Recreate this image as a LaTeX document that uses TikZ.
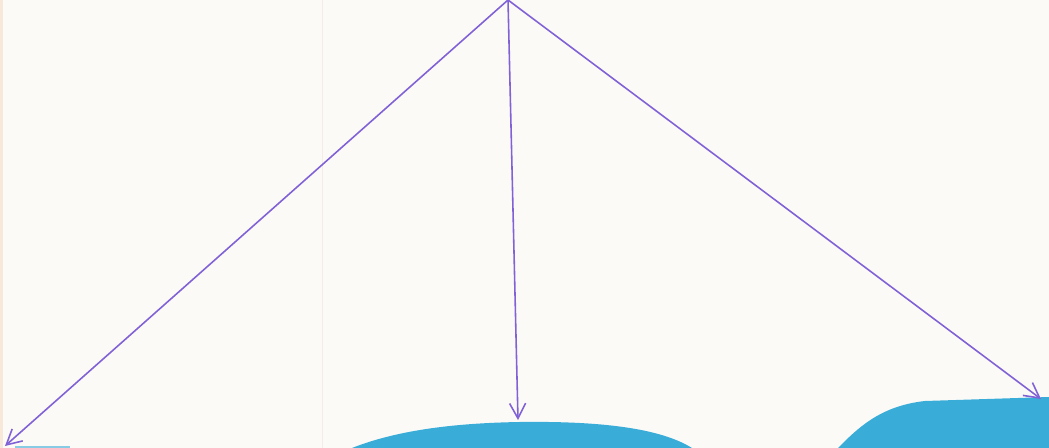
\documentclass[tikz,border=0pt]{standalone}
\usetikzlibrary{arrows.meta}
\definecolor{paper}{RGB}{252,250,247}
\definecolor{pen}{RGB}{128,98,214}
\definecolor{blob}{RGB}{58,172,216}
\definecolor{foldline}{RGB}{245,236,232}
\definecolor{edgetint}{RGB}{248,232,218}
\tikzset{
  px/.style={x=0.02cm,y=-0.02cm},
  penline/.style={draw=pen,line width=0.9pt,-{Straight Barb[length=3mm,width=3.2mm,line width=0.9pt]}},
  blobfill/.style={fill=blob,draw=none}
}
\begin{document}
\begin{tikzpicture}[px]
\fill[paper] (0,0) rectangle (1049,448);
\useasboundingbox (0,0) rectangle (1049,448);
\fill[edgetint] (0,0) rectangle (3,448);
\draw[foldline,line width=0.5pt] (322,0) -- (322,448);
% blue shapes
\fill[blobfill] (352,448) .. controls (400,429) and (460,423) .. (520,422)
  .. controls (600,421) and (660,428) .. (692,448) -- cycle;
\fill[blobfill] (838,448) .. controls (858,428) and (880,406) .. (925,401)
  -- (1049,397) -- (1049,448) -- cycle;
\fill[blob!60!paper] (15,446) rectangle (70,448);
% apex and ends
\coordinate (apex) at (508,0);
\coordinate (left) at (5,446);
\coordinate (mid) at (518,420);
\coordinate (right) at (1041,399);
\draw[penline] (apex) -- (left);
\draw[penline] (apex) -- (mid);
\draw[penline] (apex) -- (right);
\end{tikzpicture}
\end{document}
